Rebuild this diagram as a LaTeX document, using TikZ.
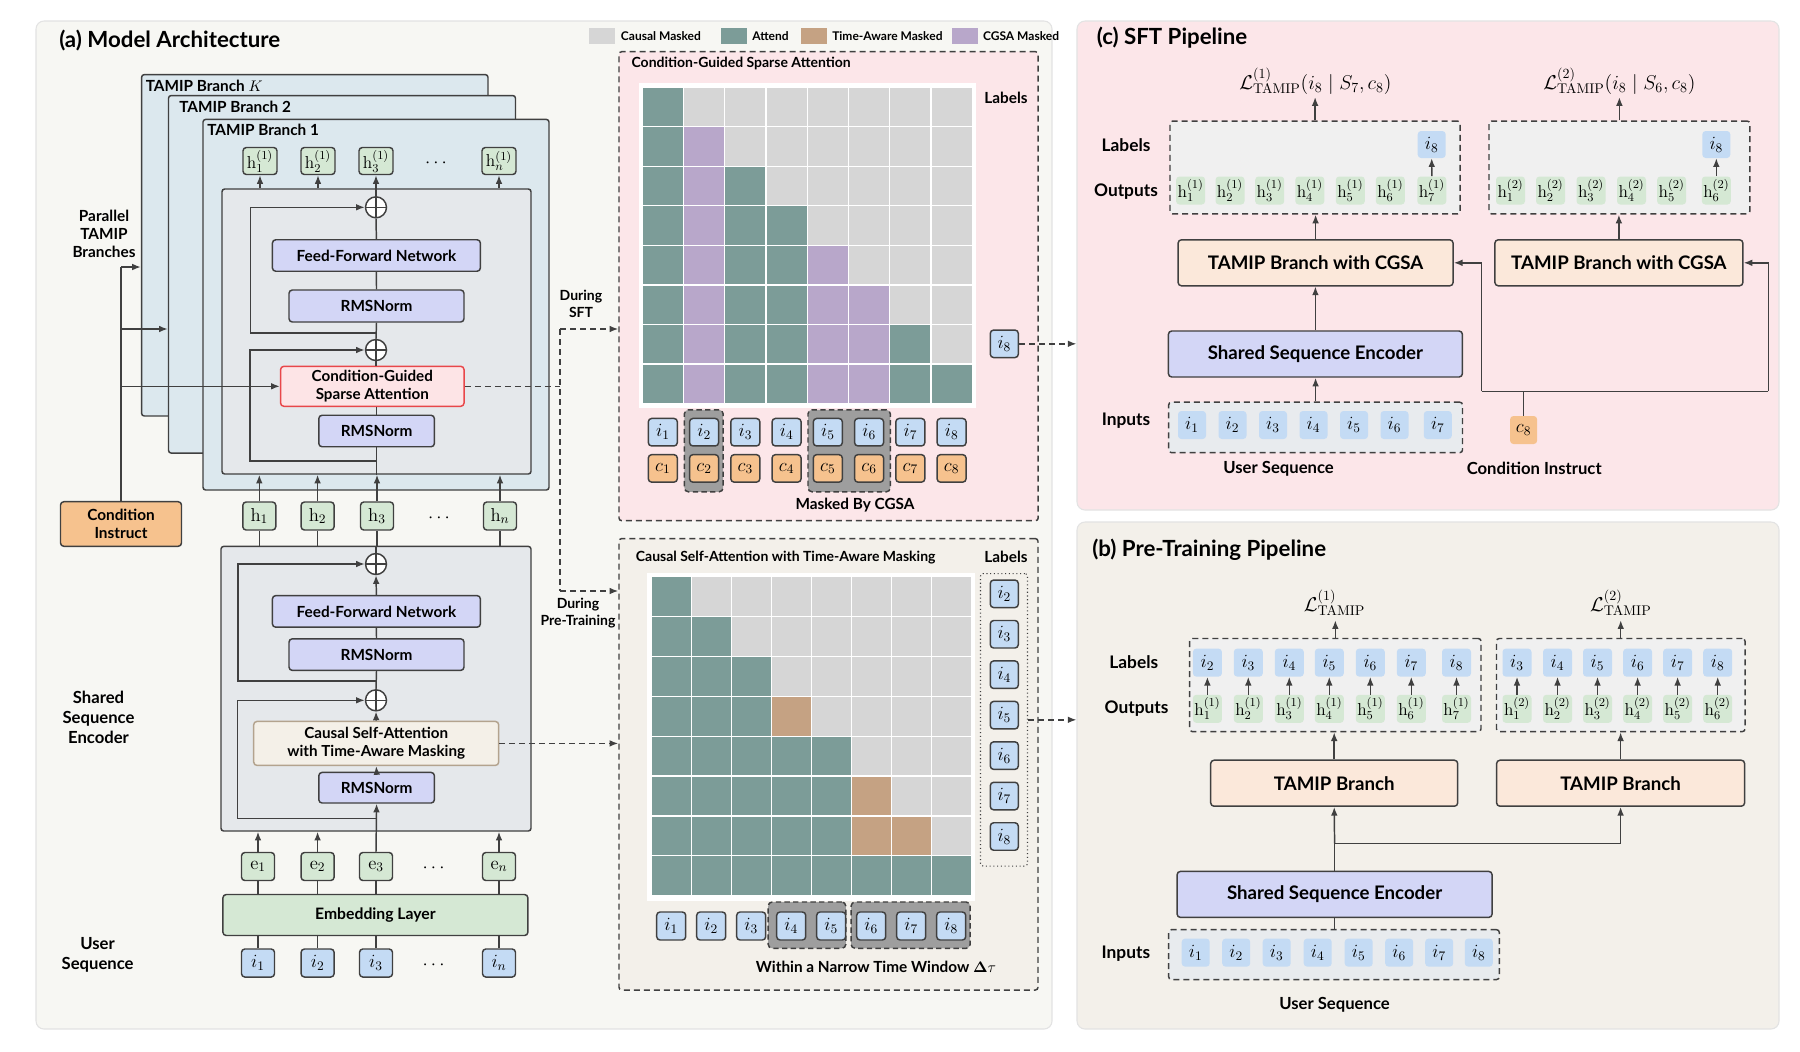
\RequirePackage{fix-cm}
\documentclass[tikz,border=0pt]{standalone}
\usepackage[no-math]{fontspec}
\setmainfont{Lato}
\setsansfont{Lato}
\usetikzlibrary{arrows.meta,calc}
\definecolor{lc}{HTML}{404040}
\definecolor{bgA}{HTML}{F7F7F3}
\definecolor{bgB}{HTML}{F3F0EA}
\definecolor{bgC}{HTML}{FCE6E9}
\definecolor{pbord}{HTML}{E3E3E3}
\definecolor{brfill}{HTML}{DCE8EE}
\definecolor{layfill}{HTML}{E5E8EB}
\definecolor{lav}{HTML}{D3D6F6}
\definecolor{grn}{HTML}{D5E8D4}
\definecolor{blu}{HTML}{C4DBF4}
\definecolor{org}{HTML}{F6C28E}
\definecolor{peach}{HTML}{FBE8DA}
\definecolor{cgsafill}{HTML}{FDE4E6}
\definecolor{cgsared}{HTML}{E8474A}
\definecolor{csafill}{HTML}{F4F0E8}
\definecolor{csabord}{HTML}{B3A38E}
\definecolor{cmask}{HTML}{D6D6D6}
\definecolor{attend}{HTML}{7C9C98}
\definecolor{tamask}{HTML}{C5A283}
\definecolor{cgsam}{HTML}{B8A7CA}
\definecolor{grp}{HTML}{9E9E9E}
\definecolor{dfill}{HTML}{F0F0F0}
\definecolor{infill}{HTML}{E8EBEE}
\newcommand{\fT}{\fontsize{16.7}{19}\selectfont\bfseries}
\newcommand{\fB}{\fontsize{11.5}{13.5}\selectfont\bfseries}
\newcommand{\fBb}{\fontsize{11.8}{13.8}\selectfont\bfseries}
\newcommand{\fS}{\fontsize{10.5}{12.5}\selectfont\bfseries}
\newcommand{\fSb}{\fontsize{11.4}{13.2}\selectfont\bfseries}
\newcommand{\fL}{\fontsize{9}{10}\selectfont\bfseries}
\newcommand{\fSide}{\fontsize{12.5}{15}\selectfont\bfseries}
\newcommand{\fP}{\fontsize{13}{15}\selectfont\bfseries}
\newcommand{\fPb}{\fontsize{14}{16}\selectfont\bfseries}
\newcommand{\fQ}{\fontsize{12.5}{14}\selectfont\bfseries}
\newcommand{\fM}{\fontsize{14}{16}\selectfont}
\newcommand{\fMs}{\fontsize{13}{15}\selectfont}
\newcommand{\fLoss}{\fontsize{15}{17}\selectfont}
\tikzset{
 sz/.style 2 args={minimum width=#1*0.75pt, minimum height=#2*0.75pt},
 lw/.style={draw=lc, line width=1.1pt},
 arr/.style={lw, -{Latex[length=6.5pt,width=5pt]}},
 darr/.style={lw, dash pattern=on 4.5pt off 3pt, -{Latex[length=6.5pt,width=5pt]}},
 dln/.style={lw, dash pattern=on 4.5pt off 3pt},
 panel/.style={draw=pbord, line width=0.8pt, rounded corners=6pt, inner sep=0pt},
 frame/.style={lw, fill=brfill, rounded corners=2pt, inner sep=0pt},
 layer/.style={lw, fill=layfill, rounded corners=2pt, inner sep=0pt},
 box/.style={lw, rounded corners=2.5pt, inner sep=0pt, align=center, font=\fB},
 lavbox/.style={box, fill=lav},
 gbox/.style={box, fill=grn, font=\fM},
 ibox/.style={box, fill=blu, font=\fM},
 cbox/.style={box, fill=org, font=\fM},
 sgbox/.style={fill=grn, rounded corners=2.5pt, inner sep=0pt, font=\fMs},
 sibox/.style={fill=blu, rounded corners=2.5pt, inner sep=0pt, font=\fM},
 scbox/.style={fill=org, rounded corners=2.5pt, inner sep=0pt, font=\fM},
 pbox/.style={box, fill=peach, font=\fPb},
 dbox/.style={lw, dash pattern=on 4.5pt off 3pt, rounded corners=2pt, inner sep=0pt},
 grpbox/.style={draw=lc, line width=1.1pt, dash pattern=on 4pt off 2.5pt, fill=grp, rounded corners=3pt, inner sep=0pt},
 opl/.style={circle, lw, fill=white, inner sep=0pt, minimum size=21*0.75pt,
   path picture={\draw[lc, line width=1.1pt] (path picture bounding box.north) -- (path picture bounding box.south) (path picture bounding box.east) -- (path picture bounding box.west);}},
 txt/.style={inner sep=0pt, align=center},
 lgsq/.style={inner sep=0pt, sz={25.7}{16.2}},
}
\begin{document}
\begin{tikzpicture}[x=0.75pt,y=-0.75pt]
\useasboundingbox (0,0) rectangle (1800,1051);
\fill[white] (0,0) rectangle (1800,1051);

% ---------- panels ----------
\node[panel, fill=bgA, sz={1016}{1008}] (pa) at (544,525) {};
\node[panel, fill=bgC, sz={702}{489}] (pc) at (1428,265.5) {};
\node[panel, fill=bgB, sz={702}{507}] (pb) at (1428,775.5) {};
\node[anchor=west, font=\fT, inner sep=0pt] (ta) at (59,41) {(a) Model Architecture};
\node[anchor=west, font=\fT, inner sep=0pt] (tc) at (1096.5,38) {(c) SFT Pipeline};
\node[anchor=west, font=\fT, inner sep=0pt] (tb) at (1092,550) {(b) Pre-Training Pipeline};

% ---------- legend ----------
\node[lgsq, fill=cmask] (lg1) at (601.9,35.6) {};
\node[anchor=west, font=\fL, inner sep=0pt] (lt1) at (620.7,35.6) {Causal Masked};
\node[lgsq, fill=attend] (lg2) at (734,35.6) {};
\node[anchor=west, font=\fL, inner sep=0pt] (lt2) at (752,35.6) {Attend};
\node[lgsq, fill=tamask] (lg3) at (813.9,35.6) {};
\node[anchor=west, font=\fL, inner sep=0pt] (lt3) at (832,35.6) {Time-Aware Masked};
\node[lgsq, fill=cgsam] (lg4) at (964.8,35.6) {};
\node[anchor=west, font=\fL, inner sep=0pt] (lt4) at (982.8,35.6) {CGSA Masked};

% ---------- TAMIP branches ----------
\node[frame, sz={346.4}{341.4}] (brK) at (314.8,245.3) {};
\node[anchor=west, font=\fB, inner sep=0pt] (lK) at (145.5,86) {TAMIP Branch $K$};
\node[frame, sz={347}{357.5}] (br2) at (342,274.3) {};
\node[anchor=west, font=\fB, inner sep=0pt] (l2) at (179,107) {TAMIP Branch 2};
\node[frame, sz={346}{370.6}] (br1) at (376,304.7) {};
\node[anchor=west, font=\fB, inner sep=0pt] (l1) at (207,130) {TAMIP Branch 1};
\node[layer, sz={309}{285}] (lay1) at (376.5,331.5) {};

\node[gbox, font=\fMs, sz={34}{27}] (ho1) at (260,161) {$\mathrm{h}_1^{(1)}$};
\node[gbox, font=\fMs, sz={34}{27}] (ho2) at (318,161) {$\mathrm{h}_2^{(1)}$};
\node[gbox, font=\fMs, sz={34}{27}] (ho3) at (376,161) {$\mathrm{h}_3^{(1)}$};
\node[txt, font=\fM] (hod) at (436,163) {$\cdots$};
\node[gbox, font=\fMs, sz={34}{27}] (hon) at (499,161) {$\mathrm{h}_n^{(1)}$};
\foreach \n in {ho1,ho2,ho3,hon}{\draw[arr] (\n.south |- lay1.north) -- (\n.south);}

\node[opl] (opB1) at (376,207.3) {};
\node[lavbox, sz={208}{31.5}] (ffn1) at (376.4,255.5) {Feed-Forward Network};
\node[lavbox, sz={175}{32}] (rmsA1) at (376.5,306) {RMSNorm};
\node[opl] (opA1) at (376,350) {};
\node[box, draw=cgsared, fill=cgsafill, font=\fSb, sz={183.5}{40}] (cgsa) at (372.3,386.3) {Condition-Guided\\Sparse Attention};
\node[lavbox, sz={115.6}{31.5}] (rmsB1) at (376.6,431) {RMSNorm};

\draw[lw] (rmsB1.south |- lay1.south) -- (rmsB1.south);
\draw[lw] (rmsB1.north) -- (rmsB1.north |- cgsa.south);
\draw[lw] (opA1.south |- cgsa.north) -- (opA1.south);
\draw[lw] (opA1.north) -- (rmsA1.south);
\draw[lw] (rmsA1.north) -- (ffn1.south);
\draw[lw] (ffn1.north) -- (opB1.south);
\draw[lw] (opB1.north) -- (opB1.north |- lay1.north);
\coordinate (s1a) at (376,333);
\coordinate (s1b) at (250.7,333);
\draw[arr] (s1a) -- (s1b) |- (opB1.west);
\coordinate (s2a) at (376,461);
\coordinate (s2b) at (250,461);
\draw[arr] (s2a) -- (s2b) |- (opA1.west);

% ---------- condition instruct ----------
\node[box, fill=org, sz={121}{44.6}] (cond) at (121,524) {Condition\\Instruct};
\coordinate (cj1) at (121,267);
\coordinate (cj2) at (121,329);
\coordinate (cj3) at (121,386.3);
\draw[lw] (cond.north) -- (cj1);
\draw[arr] (cj1) -- (brK.west |- cj1);
\draw[arr] (cj2) -- (br2.west |- cj2);
\draw[arr] (cj3) -- (cgsa.west);
\node[txt, font=\fB] (lpar) at (104,234) {Parallel\\TAMIP\\Branches};

% ---------- shared encoder ----------
\node[gbox, sz={33}{28}] (h1) at (259.3,516) {$\mathrm{h}_1$};
\node[gbox, sz={33}{28}] (h2) at (317.6,516) {$\mathrm{h}_2$};
\node[gbox, sz={33}{28}] (h3) at (377,516) {$\mathrm{h}_3$};
\node[txt, font=\fM] (hd) at (439,518) {$\cdots$};
\node[gbox, sz={33}{28}] (hn) at (500,516) {$\mathrm{h}_n$};
\foreach \n in {h1,h2,h3,hn}{\draw[arr] (\n.north) -- (\n.north |- lay1.south);}

\node[layer, sz={310}{284.6}] (enc) at (376,688.7) {};
\foreach \n in {h1,h2,h3,hn}{\draw[lw] (\n.south |- enc.north) -- (\n.south);}
\node[opl] (opB2) at (376,564) {};
\node[lavbox, sz={208}{31.6}] (ffn2) at (376.4,611.4) {Feed-Forward Network};
\node[lavbox, sz={175}{31.6}] (rmsA2) at (376.5,654.6) {RMSNorm};
\node[opl] (opA2) at (376,700.3) {};
\node[box, draw=csabord, fill=csafill, font=\fSb, sz={245}{44}] (csa) at (376.2,743.4) {Causal Self-Attention\\with Time-Aware Masking};
\node[lavbox, sz={115.6}{30.6}] (rmsB2) at (376.6,787.7) {RMSNorm};

\draw[lw] (opB2.north) -- (opB2.north |- enc.north);
\draw[arr] (ffn2.north) -- (opB2.south);
\draw[lw] (rmsA2.north) -- (ffn2.south);
\draw[lw] (opA2.north) -- (rmsA2.south);
\draw[arr] (csa.north) -- (opA2.south);
\draw[arr] (rmsB2.north) -- (csa.south);
\coordinate (s3a) at (376,681);
\coordinate (s3b) at (238,681);
\draw[arr] (s3a) -- (s3b) |- (opB2.west);
\coordinate (s4a) at (376,818.7);
\coordinate (s4b) at (237.3,818.7);
\draw[arr] (s4a) -- (s4b) |- (opA2.west);

\node[gbox, sz={33}{28}] (e1) at (258,866.5) {$\mathrm{e}_1$};
\node[gbox, sz={33}{28}] (e2) at (317.6,866.5) {$\mathrm{e}_2$};
\node[gbox, sz={33}{28}] (e3) at (376,866.5) {$\mathrm{e}_3$};
\node[txt, font=\fM] (ed) at (433.6,868.5) {$\cdots$};
\node[gbox, sz={33}{28}] (en) at (499,866.5) {$\mathrm{e}_n$};
\foreach \n in {e1,e2,en}{\draw[arr] (\n.north) -- (\n.north |- enc.south);}
\draw[arr] (e3.north) -- (rmsB2.south);

\node[box, fill=grn, font=\fBb, sz={305}{41}] (emb) at (375.4,915) {Embedding Layer};
\foreach \n in {e1,e2,e3,en}{\draw[lw] (\n.south |- emb.north) -- (\n.south);}
\node[ibox, sz={33}{28}] (u1) at (258,963) {$i_1$};
\node[ibox, sz={33}{28}] (u2) at (317.6,963) {$i_2$};
\node[ibox, sz={33}{28}] (u3) at (376,963) {$i_3$};
\node[txt, font=\fM] (ud) at (433.6,965) {$\cdots$};
\node[ibox, sz={33}{28}] (un) at (499,963) {$i_n$};
\foreach \n in {u1,u2,u3,un}{\draw[lw] (\n.north) -- (\n.north |- emb.south);}

\node[txt, font=\fSide] (lsse) at (98.5,717) {Shared\\Sequence\\Encoder};
\node[txt, font=\fSide] (lus) at (97.6,954.5) {User\\Sequence};

% ---------- CGSA panel ----------
\node[dbox, fill=bgC, sz={419.2}{469}] (pcg) at (828.6,286.2) {};
\node[anchor=west, font=\fS, inner sep=0pt] (tcg) at (631.3,63.4) {Condition-Guided Sparse Attention};
\fill[white] (638.6,82.7) rectangle (976.2,408);
\foreach \r in {1,...,8}{
  \foreach \c in {1,...,8}{
    \pgfmathtruncatemacro{\tp}{\c>\r ? 0 : ((\c==2 || \c==5 || \c==6) ? 2 : 1)}
    \ifcase\tp \def\cc{cmask}\or \def\cc{attend}\or \def\cc{cgsam}\fi
    \fill[\cc] ({642.2+41.25*(\c-1)+0.6},{87.1+39.56*(\r-1)+0.6}) rectangle ++(40.05,38.36);
  }
}
\node[txt, font=\fB] (lab1) at (1006,97.5) {Labels};
\node[ibox, sz={28}{27.5}] (gi8r) at (1004.3,343.8) {$i_8$};
\draw[darr] (gi8r.east) -- (pc.west |- gi8r.east);
\node[grpbox, sz={38.7}{82}] (grp1) at (703.75,450.8) {};
\node[grpbox, sz={82.3}{82}] (grp2) at (849.15,450.8) {};
\foreach \k in {1,...,8}{
  \node[ibox, sz={29}{27.5}] (gi\k) at ({642.2+41.25*(\k-0.5)},432.2) {$i_{\k}$};
  \node[cbox, sz={29}{27.5}] (gc\k) at ({642.2+41.25*(\k-0.5)},468.4) {$c_{\k}$};
}
\node[txt, font=\fB] (lmk) at (855,505) {Masked By CGSA};

% ---------- time-aware panel ----------
\node[dbox, fill=bgB, sz={419}{451.4}] (ppt) at (828.5,764.3) {};
\node[anchor=west, font=\fS, inner sep=0pt] (tpt) at (635.6,557.2) {Causal Self-Attention with Time-Aware Masking};
\node[txt, font=\fB] (lab2) at (1006,557.2) {Labels};
\fill[white] (646.9,572.5) rectangle (975.2,901);
\foreach \r in {1,...,8}{
  \foreach \c in {1,...,8}{
    \pgfmathtruncatemacro{\tp}{\c>\r ? 0 : (((\r==4 && \c==4) || (\r==6 && \c==6) || (\r==7 && \c>5)) ? 2 : 1)}
    \ifcase\tp \def\cc{cmask}\or \def\cc{attend}\or \def\cc{tamask}\fi
    \fill[\cc] ({651.2+40*(\c-1)+0.6},{576.5+39.9*(\r-1)+0.6}) rectangle ++(38.8,38.7);
  }
}
\node[draw=lc, line width=0.8pt, dotted, rounded corners=2pt, inner sep=0pt, sz={47}{292.5}] (lblbox) at (1004,719.8) {};
\foreach \k in {2,...,8}{
  \node[ibox, sz={28}{27.5}] (pl\k) at (1004.3,{593.8+40.45*(\k-2)}) {$i_{\k}$};
}
\draw[darr] (lblbox.east) -- (pb.west |- lblbox.east);
\node[grpbox, sz={77.6}{46.3}] (grp3) at (807,925.15) {};
\node[grpbox, sz={119.1}{46.3}] (grp4) at (910.65,925.15) {};
\foreach \k in {1,...,8}{
  \node[ibox, sz={29}{28}] (pi\k) at ({651.2+40*(\k-0.5)},926) {$i_{\k}$};
}
\node[txt, font=\fB] (ltw) at (876,967) {Within a Narrow Time Window $\mathbf{\Delta}\tau$};

% ---------- dashed connections from (a) ----------
\coordinate (jA) at (560,386.3);
\coordinate (jT) at (560,329);
\coordinate (jB) at (560,591);
\draw[dln] (cgsa.east) -- (jA);
\draw[dln] (jT) -- (jB);
\draw[darr] (jT) -- (pcg.west |- jT);
\draw[darr] (jB) -- (ppt.west |- jB);
\draw[darr] (csa.east) -- (ppt.west |- csa.east);
\node[txt, font=\fS] (dsft) at (581,304) {During\\SFT};
\node[txt, font=\fS] (dpt) at (578,613) {During\\Pre-Training};

% ---------- (c) SFT pipeline ----------
\node[txt, font=\fLoss] (lossc1) at (1315.4,81.2) {$\mathcal{L}^{(1)}_{\mathrm{TAMIP}}(i_8 \mid S_7, c_8)$};
\node[txt, font=\fLoss] (lossc2) at (1619.4,81.2) {$\mathcal{L}^{(2)}_{\mathrm{TAMIP}}(i_8 \mid S_6, c_8)$};
\node[dbox, fill=dfill, sz={290.2}{92.9}] (cd1) at (1315.1,167.5) {};
\node[dbox, fill=dfill, sz={260.8}{92.9}] (cd2) at (1619.4,167.5) {};
\draw[arr] (cd1.north) -- ++(0,-23.2);
\draw[arr] (cd2.north) -- ++(0,-23.2);
\node[txt, font=\fP] (clab) at (1126,145) {Labels};
\node[txt, font=\fP] (cout) at (1126,191.7) {Outputs};
\foreach \x [count=\k] in {1190.6,1230,1269.7,1309.8,1350.3,1390.3,1431.8}{
  \node[sgbox, sz={29}{28}] (ch\k) at (\x,190.5) {$\mathrm{h}_{\k}^{(1)}$};
}
\node[sibox, sz={28}{27}] (ci8a) at (1431.7,144.5) {$i_8$};
\draw[arr] (ch7.north) -- (ci8a.south);
\foreach \x [count=\k] in {1510.5,1550.5,1591,1631.5,1671.6,1716.3}{
  \node[sgbox, sz={29}{28}] (cg\k) at (\x,190.5) {$\mathrm{h}_{\k}^{(2)}$};
}
\node[sibox, sz={28}{27}] (ci8b) at (1716.3,144.5) {$i_8$};
\draw[arr] (cg6.north) -- (ci8b.south);
\node[pbox, sz={275}{46}] (ct1) at (1315.6,262.8) {TAMIP Branch with CGSA};
\node[pbox, sz={248}{46}] (ct2) at (1618.9,262.8) {TAMIP Branch with CGSA};
\draw[arr] (ct1.north) -- (ct1.north |- cd1.south);
\draw[arr] (ct2.north) -- (ct2.north |- cd2.south);
\node[lavbox, font=\fPb, sz={294}{46}] (cse) at (1315.4,354) {Shared Sequence Encoder};
\draw[arr] (cse.north) -- (cse.north |- ct1.south);
\node[dbox, fill=infill, sz={293.8}{50.4}] (cin) at (1315.6,427.4) {};
\draw[arr] (cin.north) -- (cin.north |- cse.south);
\foreach \x [count=\k] in {1192,1232.5,1273,1313.5,1354,1394.5,1437.8}{
  \node[sibox, sz={28}{28}] (cu\k) at (\x,425) {$i_{\k}$};
}
\node[txt, font=\fP] (cinl) at (1126,420.5) {Inputs};
\node[txt, font=\fQ] (cus) at (1278.6,468.5) {User Sequence};
\node[scbox, sz={27}{28}] (cc8) at (1523.6,430) {$c_8$};
\node[txt, font=\fQ] (cci) at (1534.2,468.5) {Condition Instruct};
\coordinate (cj) at (1523.6,391.3);
\coordinate (cjl) at (1481.6,391.3);
\coordinate (cjr) at (1768.4,391.3);
\draw[lw] (cc8.north) -- (cj);
\draw[lw] (cjl) -- (cjr);
\draw[arr] (cjl) |- (ct1.east);
\draw[arr] (cjr) |- (ct2.east);

% ---------- (b) pre-training pipeline ----------
\node[txt, font=\fLoss] (lossb1) at (1334.5,603) {$\mathcal{L}^{(1)}_{\mathrm{TAMIP}}$};
\node[txt, font=\fLoss] (lossb2) at (1620.8,603) {$\mathcal{L}^{(2)}_{\mathrm{TAMIP}}$};
\node[dbox, fill=dfill, sz={291.3}{93.1}] (bd1) at (1335.35,685.05) {};
\node[dbox, fill=dfill, sz={248.5}{93.1}] (bd2) at (1620.75,685.05) {};
\draw[arr] (bd1.north) -- ++(0,-17.5);
\draw[arr] (bd2.north) -- ++(0,-17.5);
\node[txt, font=\fP] (blab) at (1133.8,662.2) {Labels};
\node[txt, font=\fP] (bout) at (1136.6,708.6) {Outputs};
\foreach \x [count=\k] in {1207.4,1248.3,1289.3,1329.3,1370.3,1411.3,1456.5}{
  \pgfmathtruncatemacro{\lbl}{\k+1}
  \node[sgbox, sz={29}{28}] (bh\k) at (\x,708.8) {$\mathrm{h}_{\k}^{(1)}$};
  \node[sibox, sz={29}{28}] (bl\k) at (\x,662.6) {$i_{\lbl}$};
  \draw[arr] (bh\k.north) -- (bl\k.south);
}
\foreach \x [count=\k] in {1517,1557.5,1597.5,1637.6,1677.6,1717.7}{
  \pgfmathtruncatemacro{\lbl}{\k+2}
  \node[sgbox, sz={29}{28}] (bg\k) at (\x,708.8) {$\mathrm{h}_{\k}^{(2)}$};
  \node[sibox, sz={29}{28}] (bm\k) at (\x,662.6) {$i_{\lbl}$};
  \draw[arr] (bg\k.north) -- (bm\k.south);
}
\node[pbox, sz={247}{46}] (bt1) at (1334.2,783.2) {TAMIP Branch};
\node[pbox, sz={248}{46}] (bt2) at (1620.6,783.2) {TAMIP Branch};
\draw[arr] (bt1.north) -- (bt1.north |- bd1.south);
\draw[arr] (bt2.north) -- (bt2.north |- bd2.south);
\node[lavbox, font=\fPb, sz={315}{46}] (bse) at (1334.6,894.4) {Shared Sequence Encoder};
\coordinate (bj) at (1334.6,843.4);
\coordinate (bjr) at (1620.6,843.4);
\draw[lw] (bse.north) -- (bj);
\draw[arr] (bj) -- (bt1.south);
\draw[arr] (bj) -- (bjr) -- (bt2.south);
\node[dbox, fill=infill, sz={330.6}{49.8}] (bin) at (1334,954.6) {};
\draw[lw] (bin.north -| bse.south) -- (bse.south);
\foreach \x [count=\k] in {1195.7,1236.2,1276.7,1317.7,1358.7,1399.2,1439.2,1478.8}{
  \node[sibox, sz={28}{28}] (bu\k) at (\x,952.6) {$i_{\k}$};
}
\node[txt, font=\fP] (binl) at (1125.9,953.4) {Inputs};
\node[txt, font=\fQ] (bus) at (1334.5,1005) {User Sequence};
\end{tikzpicture}
\end{document}
